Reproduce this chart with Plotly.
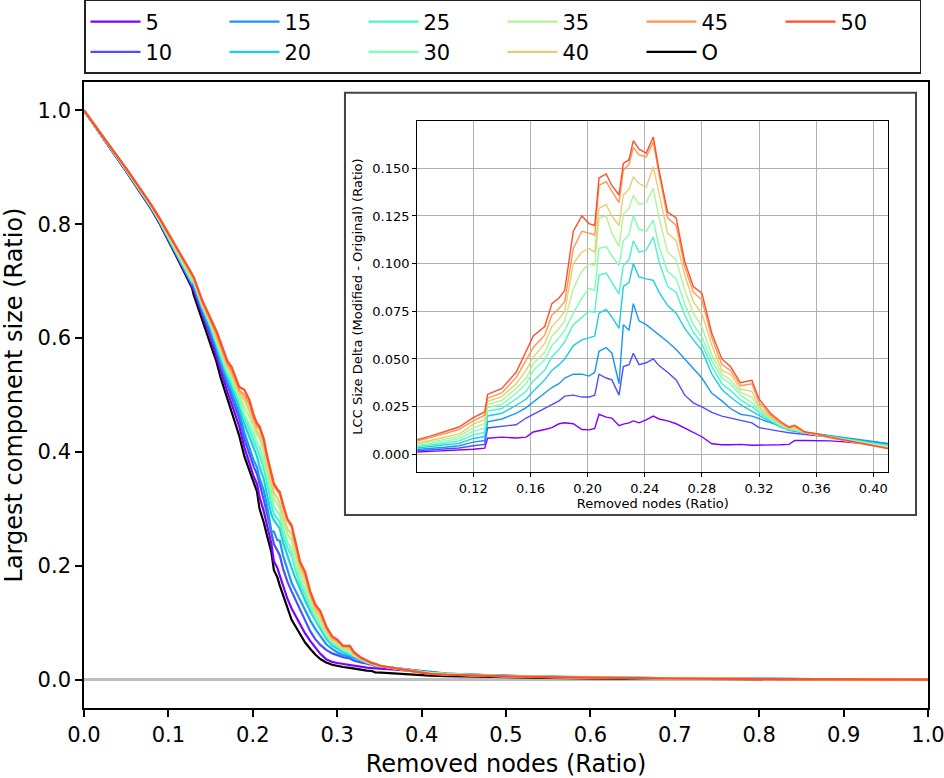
import plotly.graph_objects as go

# ---------------- data ----------------
X = [0.0, 0.01, 0.02, 0.035, 0.05, 0.065,
     0.08, 0.09, 0.10, 0.11, 0.12, 0.128, 0.130, 0.14, 0.15, 0.157, 0.162, 0.17, 0.175, 0.18, 0.184,
     0.19, 0.196, 0.201, 0.205, 0.208, 0.213, 0.217, 0.222, 0.225, 0.229, 0.232, 0.236, 0.241, 0.246,
     0.25, 0.256, 0.262, 0.268, 0.274, 0.28, 0.287, 0.294, 0.30, 0.307, 0.315, 0.32, 0.328, 0.335,
     0.341, 0.345, 0.352, 0.36, 0.37, 0.38, 0.39, 0.40, 0.41,
     0.43, 0.46, 0.5, 0.55, 0.6, 0.7, 0.8, 0.9, 1.0]

ORIGINAL = [1.0, 0.978, 0.957, 0.925, 0.893, 0.860,
            0.826, 0.800, 0.772, 0.742, 0.712, 0.688, 0.676, 0.632, 0.592, 0.558, 0.530, 0.492, 0.470, 0.448, 0.428,
            0.392, 0.366, 0.344, 0.330, 0.300, 0.276, 0.252, 0.224, 0.192, 0.180, 0.165, 0.147, 0.124, 0.105,
            0.095, 0.080, 0.065, 0.054, 0.044, 0.036, 0.030, 0.026, 0.024, 0.022, 0.0205, 0.019, 0.0172, 0.0158,
            0.0150, 0.0126, 0.0120, 0.0112, 0.0102, 0.0094, 0.0086, 0.0078, 0.0070,
            0.0058, 0.0048, 0.0038, 0.0030, 0.0022, 0.0013, 0.0007, 0.0003, 0.0]

# LCC size delta (modified - original) per series
DELTA_05 = [0, 0.0002, 0.0004, 0.0006, 0.0008, 0.0010,
            0.0012, 0.0015, 0.0018, 0.0021, 0.0026, 0.0032, 0.0084, 0.0090, 0.0085, 0.0090, 0.0117, 0.0130, 0.0140, 0.0160, 0.0165,
            0.0160, 0.0130, 0.0128, 0.0135, 0.0210, 0.0195, 0.0190, 0.0150, 0.0158, 0.0165, 0.0175, 0.0165, 0.0180, 0.0200,
            0.0185, 0.0175, 0.0160, 0.0138, 0.0115, 0.0092, 0.0055, 0.0050, 0.0050, 0.0052, 0.0047, 0.0047, 0.0048, 0.0050,
            0.0052, 0.0073, 0.0072, 0.0072, 0.0070, 0.0065, 0.0058, 0.0050, 0.0045,
            0.0038, 0.0030, 0.0022, 0.0016, 0.0012, 0.0007, 0.0004, 0.0002, 0]
DELTA_10 = [0, 0.0003, 0.0006, 0.0009, 0.0012, 0.0015,
            0.0018, 0.0022, 0.0027, 0.0033, 0.0045, 0.0052, 0.0138, 0.0145, 0.0155, 0.0190, 0.0210, 0.0240, 0.0260, 0.0280, 0.0305,
            0.0310, 0.0300, 0.0300, 0.0310, 0.0420, 0.0400, 0.0390, 0.0310, 0.0460, 0.0470, 0.0530, 0.0470, 0.0480, 0.0500,
            0.0465, 0.0430, 0.0390, 0.0310, 0.0270, 0.0248, 0.0220, 0.0200, 0.0190, 0.0175, 0.0165, 0.0140, 0.0128, 0.0120,
            0.0113, 0.0110, 0.0105, 0.0100, 0.0092, 0.0082, 0.0072, 0.0063, 0.0055,
            0.0045, 0.0035, 0.0026, 0.0019, 0.0014, 0.0008, 0.0004, 0.0002, 0]
DELTA_15 = [0, 0.0004, 0.0008, 0.0012, 0.0017, 0.0021,
            0.0025, 0.0030, 0.0037, 0.0045, 0.0064, 0.0072, 0.0170, 0.0185, 0.0215, 0.0245, 0.0275, 0.0320, 0.0350, 0.0370, 0.0400,
            0.0420, 0.0420, 0.0410, 0.0430, 0.0540, 0.0560, 0.0530, 0.0370, 0.0680, 0.0650, 0.0790, 0.0700, 0.0680, 0.0650,
            0.0630, 0.0590, 0.0550, 0.0500, 0.0450, 0.0400, 0.0320, 0.0280, 0.0240, 0.0210, 0.0200, 0.0188, 0.0165, 0.0148,
            0.0125, 0.0120, 0.0112, 0.0108, 0.0097, 0.0087, 0.0077, 0.0066, 0.0057,
            0.0047, 0.0036, 0.0027, 0.0020, 0.0015, 0.0008, 0.0004, 0.0002, 0]
DELTA_20 = [0, 0.0005, 0.0010, 0.0016, 0.0022, 0.0027,
            0.0032, 0.0039, 0.0047, 0.0057, 0.0083, 0.0093, 0.0201, 0.0215, 0.0257, 0.0290, 0.0330, 0.0390, 0.0440, 0.0470, 0.0500,
            0.0570, 0.0600, 0.0610, 0.0620, 0.0740, 0.0760, 0.0720, 0.0660, 0.0880, 0.0900, 0.1000, 0.0930, 0.0920, 0.0912,
            0.0850, 0.0780, 0.0740, 0.0660, 0.0600, 0.0545, 0.0420, 0.0340, 0.0300, 0.0260, 0.0225, 0.0205, 0.0170, 0.0142,
            0.0128, 0.0122, 0.0112, 0.0106, 0.0094, 0.0083, 0.0072, 0.0060, 0.0050,
            0.0042, 0.0033, 0.0025, 0.0018, 0.0013, 0.0007, 0.0004, 0.0002, 0]
DELTA_25 = [0, 0.0006, 0.0012, 0.0020, 0.0027, 0.0034,
            0.0040, 0.0048, 0.0058, 0.0070, 0.0102, 0.0115, 0.0227, 0.0240, 0.0290, 0.0330, 0.0385, 0.0440, 0.0510, 0.0550, 0.0590,
            0.0680, 0.0720, 0.0750, 0.0745, 0.0940, 0.0950, 0.0900, 0.0840, 0.0990, 0.1020, 0.1120, 0.1060, 0.1070, 0.1140,
            0.1010, 0.0880, 0.0850, 0.0730, 0.0640, 0.0580, 0.0460, 0.0370, 0.0335, 0.0285, 0.0250, 0.0220, 0.0178, 0.0147,
            0.0130, 0.0125, 0.0112, 0.0105, 0.0092, 0.0080, 0.0068, 0.0056, 0.0046,
            0.0039, 0.0031, 0.0023, 0.0017, 0.0012, 0.0007, 0.0004, 0.0002, 0]
DELTA_30 = [0, 0.0007, 0.0014, 0.0023, 0.0031, 0.0039,
            0.0046, 0.0056, 0.0068, 0.0082, 0.0120, 0.0137, 0.0245, 0.0262, 0.0320, 0.0370, 0.0440, 0.0495, 0.0570, 0.0610, 0.0650,
            0.0740, 0.0820, 0.0870, 0.0860, 0.1080, 0.1090, 0.1040, 0.0990, 0.1120, 0.1150, 0.1253, 0.1180, 0.1170, 0.1227,
            0.1090, 0.0960, 0.0920, 0.0790, 0.0680, 0.0615, 0.0490, 0.0400, 0.0370, 0.0310, 0.0270, 0.0230, 0.0185, 0.0152,
            0.0132, 0.0128, 0.0112, 0.0104, 0.0090, 0.0078, 0.0065, 0.0052, 0.0042,
            0.0036, 0.0029, 0.0022, 0.0016, 0.0012, 0.0007, 0.0003, 0.0002, 0]
DELTA_35 = [0, 0.0008, 0.0016, 0.0026, 0.0036, 0.0045,
            0.0053, 0.0064, 0.0078, 0.0094, 0.0140, 0.0160, 0.0262, 0.0282, 0.0346, 0.0400, 0.0475, 0.0535, 0.0620, 0.0660, 0.0700,
            0.0870, 0.0960, 0.1000, 0.0990, 0.1240, 0.1250, 0.1160, 0.1090, 0.1260, 0.1290, 0.1358, 0.1310, 0.1320, 0.1395,
            0.1240, 0.1060, 0.1020, 0.0860, 0.0740, 0.0668, 0.0520, 0.0420, 0.0390, 0.0325, 0.0300, 0.0240, 0.0190, 0.0156,
            0.0135, 0.0133, 0.0113, 0.0104, 0.0089, 0.0076, 0.0063, 0.0049, 0.0039,
            0.0033, 0.0027, 0.0020, 0.0015, 0.0011, 0.0006, 0.0003, 0.0001, 0]
DELTA_40 = [0, 0.0009, 0.0018, 0.0030, 0.0040, 0.0051,
            0.0060, 0.0072, 0.0088, 0.0106, 0.0158, 0.0182, 0.0278, 0.0302, 0.0370, 0.0440, 0.0510, 0.0580, 0.0670, 0.0710, 0.0750,
            0.1000, 0.1060, 0.1080, 0.1060, 0.1290, 0.1310, 0.1250, 0.1200, 0.1360, 0.1390, 0.1454, 0.1420, 0.1400, 0.1507,
            0.1370, 0.1160, 0.1120, 0.0940, 0.0800, 0.0738, 0.0570, 0.0440, 0.0420, 0.0340, 0.0330, 0.0250, 0.0195, 0.0160,
            0.0137, 0.0138, 0.0114, 0.0104, 0.0088, 0.0074, 0.0061, 0.0047, 0.0036,
            0.0031, 0.0025, 0.0019, 0.0014, 0.0010, 0.0006, 0.0003, 0.0001, 0]
DELTA_45 = [0, 0.0010, 0.0020, 0.0034, 0.0046, 0.0058,
            0.0068, 0.0087, 0.0108, 0.0130, 0.0175, 0.0205, 0.0294, 0.0322, 0.0402, 0.0490, 0.0560, 0.0625, 0.0730, 0.0765, 0.0800,
            0.1080, 0.1170, 0.1160, 0.1150, 0.1410, 0.1430, 0.1380, 0.1320, 0.1490, 0.1520, 0.1610, 0.1570, 0.1560, 0.1638,
            0.1470, 0.1240, 0.1200, 0.0980, 0.0850, 0.0810, 0.0610, 0.0470, 0.0440, 0.0360, 0.0370, 0.0272, 0.0205, 0.0165,
            0.0138, 0.0146, 0.0114, 0.0103, 0.0086, 0.0070, 0.0058, 0.0044, 0.0031,
            0.0027, 0.0022, 0.0017, 0.0013, 0.0009, 0.0005, 0.0003, 0.0001, 0]
DELTA_50 = [0, 0.0011, 0.0022, 0.0037, 0.0051, 0.0064,
            0.0075, 0.0095, 0.0118, 0.0143, 0.0192, 0.0222, 0.0314, 0.0345, 0.0430, 0.0540, 0.0620, 0.0670, 0.0790, 0.0820, 0.0860,
            0.1170, 0.1250, 0.1210, 0.1200, 0.1450, 0.1470, 0.1410, 0.1360, 0.1525, 0.1545, 0.1645, 0.1600, 0.1580, 0.1664,
            0.1490, 0.1270, 0.1240, 0.1010, 0.0880, 0.0845, 0.0634, 0.0500, 0.0460, 0.0375, 0.0388, 0.0290, 0.0215, 0.0172,
            0.0143, 0.0152, 0.0118, 0.0108, 0.0090, 0.0075, 0.0062, 0.0045, 0.0030,
            0.0026, 0.0021, 0.0016, 0.0012, 0.0009, 0.0005, 0.0002, 0.0001, 0]

SERIES_LABELS = ["5", "10", "15", "20", "25", "30", "35", "40", "45", "50"]
ORIGINAL_LABEL = "O"
DELTAS = [DELTA_05, DELTA_10, DELTA_15, DELTA_20, DELTA_25,
          DELTA_30, DELTA_35, DELTA_40, DELTA_45, DELTA_50]

MAIN_XTICKS = [0.0, 0.1, 0.2, 0.3, 0.4, 0.5, 0.6, 0.7, 0.8, 0.9, 1.0]
MAIN_YTICKS = [0.0, 0.2, 0.4, 0.6, 0.8, 1.0]
INSET_XTICKS = [0.12, 0.16, 0.20, 0.24, 0.28, 0.32, 0.36, 0.40]
INSET_YTICKS = [0.0, 0.025, 0.05, 0.075, 0.1, 0.125, 0.15]

# ---------------- style ----------------
COLORS = ["#8000ff", "#4d4ffc", "#1a96f3", "#1acee3", "#4df3ce",
          "#80ffb4", "#b3f396", "#e6ce74", "#ff964f", "#ff4f28"]
RANKS = [1, 7, 2, 8, 3, 9, 4, 10, 5, 6]  # legend layout: two rows
FONT = "DejaVu Sans"

fig = go.Figure()

# main axes: original first, then modified series
fig.add_trace(go.Scatter(x=X, y=ORIGINAL, mode="lines", name=ORIGINAL_LABEL,
                         line=dict(color="black", width=2.2), legendrank=11))
for lab, d, c, r in zip(SERIES_LABELS, DELTAS, COLORS, RANKS):
    modified = [o + v for o, v in zip(ORIGINAL, d)]
    fig.add_trace(go.Scatter(x=X, y=modified, mode="lines", name=lab,
                             line=dict(color=c, width=2.2), legendrank=r))

# inset
for lab, d, c in zip(SERIES_LABELS, DELTAS, COLORS):
    fig.add_trace(go.Scatter(x=X, y=d, mode="lines", name=lab, showlegend=False,
                             line=dict(color=c, width=1.4), xaxis="x2", yaxis="y2"))

axis_common = dict(showline=True, mirror=True, linecolor="black", ticks="outside",
                   tickcolor="black", showgrid=False, color="black")

fig.update_layout(
    width=944, height=778,
    margin=dict(l=84, r=16, t=82, b=70, autoexpand=False),
    paper_bgcolor="white", plot_bgcolor="white",
    font=dict(family=FONT, color="black"),
    xaxis=dict(**axis_common, range=[0, 1], tickvals=MAIN_XTICKS, tickformat=".1f",
               linewidth=1.6, ticklen=7, tickwidth=1.5, zeroline=False,
               tickfont=dict(size=21), ticklabeloverflow="allow",
               title=dict(text="Removed nodes (Ratio)", font=dict(size=24), standoff=10)),
    yaxis=dict(**axis_common, range=[-0.05, 1.05], tickvals=MAIN_YTICKS, tickformat=".1f",
               linewidth=1.6, ticklen=7, tickwidth=1.5,
               zeroline=True, zerolinecolor="#bdbdbd", zerolinewidth=2.5,
               tickfont=dict(size=21),
               title=dict(text="Largest component size (Ratio)", font=dict(size=24), standoff=10)),
    xaxis2=dict(showline=True, mirror=True, linecolor="black", linewidth=1.3,
                ticks="outside", ticklen=4, tickcolor="black", color="black",
                domain=[0.3949, 0.9530], anchor="y2", range=[0.0808, 0.4105],
                tickvals=INSET_XTICKS, tickformat=".2f", zeroline=False,
                showgrid=True, gridcolor="#b0b0b0", gridwidth=1.3,
                tickfont=dict(size=13),
                title=dict(text="Removed nodes (Ratio)", font=dict(size=13), standoff=3)),
    yaxis2=dict(showline=True, mirror=True, linecolor="black", linewidth=1.3,
                ticks="outside", ticklen=4, tickcolor="black", color="black",
                domain=[0.3770, 0.9377], anchor="x2", range=[-0.0093, 0.1748],
                tickvals=INSET_YTICKS, tickformat=".3f", zeroline=False,
                showgrid=True, gridcolor="#b0b0b0", gridwidth=1.3,
                tickfont=dict(size=13),
                title=dict(text="LCC Size Delta (Modified - Original) (Ratio)",
                           font=dict(size=13), standoff=6)),
    legend=dict(orientation="h", x=0, xanchor="left", y=1.131, yanchor="top",
                bgcolor="white", bordercolor="#222", borderwidth=1.5,
                font=dict(size=21), entrywidth=74, entrywidthmode="pixels",
                itemwidth=50, traceorder="normal"),
    shapes=[dict(type="rect", xref="paper", yref="paper",
                 x0=0.3092, x1=0.9858, y0=0.3083, y1=0.9829,
                 line=dict(color="#444", width=2), fillcolor="white", layer="below")],
)

# remove the default page margin so the figure sits at the window's top-left corner
fig.write_html("out.html",
               config={"displayModeBar": False},
               post_script="document.body.style.margin='0px';document.body.style.overflow='hidden';")
